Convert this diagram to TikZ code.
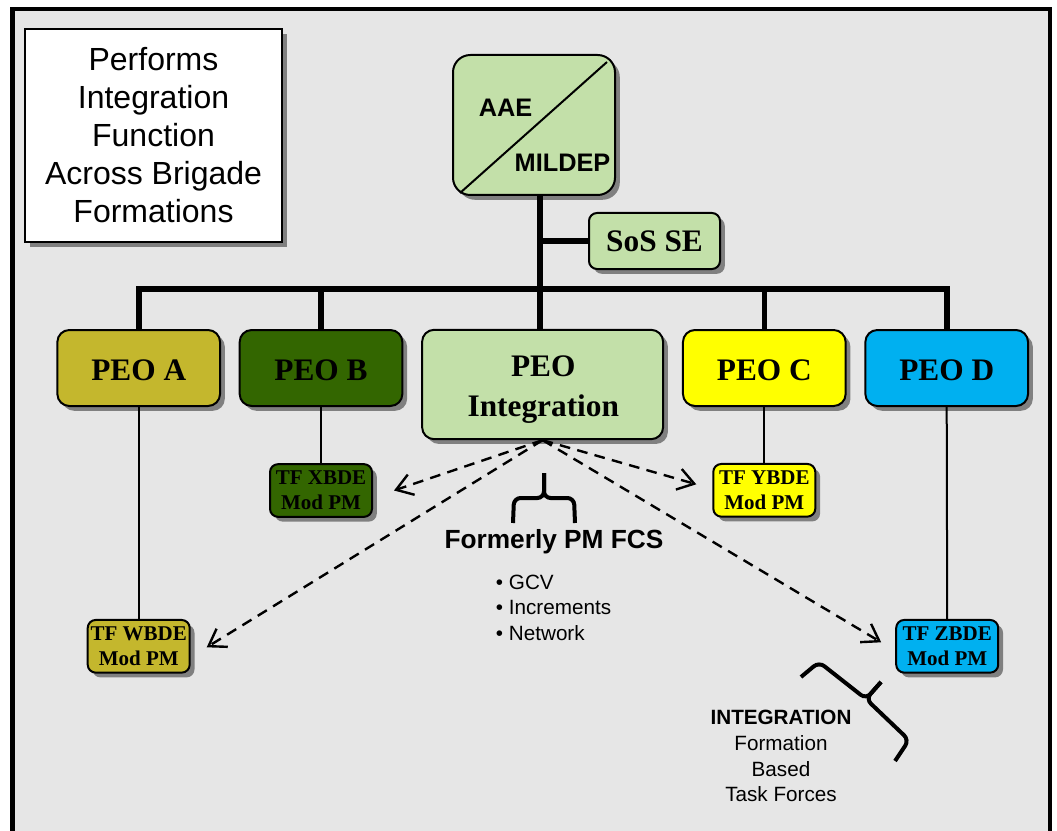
\documentclass[tikz,border=0pt]{standalone}
\usepackage{fontspec}
\setmainfont{Liberation Serif}
\newfontfamily\arial{Liberation Sans}
\usetikzlibrary{shadows,arrows.meta,calc}

\definecolor{panelgray}{HTML}{E6E6E6}
\definecolor{lgreen}{HTML}{C3E0A9}
\definecolor{olivebox}{HTML}{C4B72D}
\definecolor{dgreen}{HTML}{336600}
\definecolor{ybox}{HTML}{FFFF00}
\definecolor{cbox}{HTML}{00B0F0}

\tikzset{
  shadowed/.style={drop shadow={shadow xshift=3.6pt, shadow yshift=-3.6pt, fill=black!50, opacity=1}},
  peobox/.style={draw=black, line width=1.5pt, rounded corners=9pt, minimum width=122pt,
    minimum height=57pt, inner sep=0pt, align=center, shadowed,
    text height=18pt, text depth=0pt,
    font=\bfseries\fontsize{23.5}{30}\selectfont},
  tfbox/.style={draw=black, line width=1.5pt, rounded corners=6pt, minimum width=76.5pt,
    minimum height=39.5pt, inner sep=0pt, align=center, shadowed,
    font=\bfseries\fontsize{15.75}{18.75}\selectfont},
  trunk/.style={line width=4.2pt},
  twig/.style={line width=1.5pt},
  link/.style={line width=1.8pt, dash pattern=on 8pt off 5.5pt,
    -{Straight Barb[length=12pt,width=16pt]}},
  brace/.style={line width=3pt, rounded corners=5pt},
  sanslabel/.style={inner sep=0pt, font=\arial\fontsize{15.5}{18}\selectfont},
}

\begin{document}
\begin{tikzpicture}[x=0.75pt,y=-0.75pt]
  % page and panel
  \fill[white] (0,0) rectangle (1057,831);
  \useasboundingbox (0,0) rectangle (1057,831);
  \draw[line width=3.6pt, fill=panelgray] (12.5,9) rectangle (1050,834);

  % explanatory note
  \node[draw=black, line width=1.5pt, fill=white, shadowed, minimum width=192.75pt,
        minimum height=159.75pt, align=center, font=\arial\fontsize{24}{28.5}\selectfont]
        (note) at (153.5,135.5) {Performs\\Integration\\Function\\Across Brigade\\Formations};

  % top: AAE / MILDEP
  \node[draw=black, line width=1.5pt, fill=lgreen, rounded corners=13pt, minimum width=121.5pt,
        minimum height=105pt, shadowed] (aae) at (534,125) {};
  \draw[line width=1.5pt] ($(aae.south west)+(8,-3)$) -- ($(aae.north east)+(-9,8)$);
  \node[inner sep=0pt, font=\arial\bfseries\fontsize{19}{19}\selectfont] (aaet) at (505.5,107.5) {AAE};
  \node[inner sep=0pt, font=\arial\bfseries\fontsize{19}{19}\selectfont] (mildep) at (562.5,162.5) {MILDEP};

  % SoS SE
  \node[draw=black, line width=1.5pt, fill=lgreen, rounded corners=6pt, minimum width=98.25pt,
        minimum height=42pt, inner sep=0pt, shadowed, font=\bfseries\fontsize{23.5}{28}\selectfont]
        (sos) at (654.5,241) {SoS SE};

  % PEO row
  \node[peobox, fill=olivebox] (peoa) at (138.7,368) {PEO A};
  \node[peobox, fill=dgreen]   (peob) at (321,368) {PEO B};
  \node[peobox, fill=lgreen, minimum width=180.75pt, minimum height=82pt] (peoi) at (542.6,384.5) {};
  \node[inner sep=0pt, align=center, font=\bfseries\fontsize{23.5}{30}\selectfont] (peoit) at (543.3,389.6) {PEO\\Integration};
  \node[peobox, fill=ybox]     (peoc) at (764.3,368) {PEO C};
  \node[peobox, fill=cbox]     (peod) at (946.7,368) {PEO D};

  % task force boxes
  \node[tfbox, fill=olivebox] (wbde) at (138.7,646.3) {TF WBDE\\Mod PM};
  \node[tfbox, fill=dgreen]   (xbde) at (321,490.5) {TF XBDE\\Mod PM};
  \node[tfbox, fill=ybox]     (ybde) at (764.3,490.3) {TF YBDE\\Mod PM};
  \node[tfbox, fill=cbox]     (zbde) at (947.2,646.3) {TF ZBDE\\Mod PM};

  % main hierarchy
  \coordinate (tk) at ($(aae.south)+(6,0)$);
  \coordinate (hub) at (540,289);
  \draw[trunk] (tk) -- (tk |- peoi.north);
  \draw[trunk] (sos.west) -- (sos.west -| tk);
  \draw[trunk, line join=miter] (peoa.north) -- (peoa.north |- hub) -- (peod.north |- hub) -- (peod.north);
  \draw[trunk] (peob.north) -- (peob.north |- hub);
  \draw[trunk] (peoc.north) -- (peoc.north |- hub);

  % PEO to task force
  \draw[twig] (peoa.south) -- (wbde.north);
  \draw[twig] (peob.south) -- (xbde.north);
  \draw[twig] (peoc.south) -- (ybde.north);
  \draw[twig] (peod.south) -- (zbde.north);

  % integration links
  \draw[link] (peoi.south) -- ($(xbde.east)+(21,0)$);
  \draw[link] (peoi.south) -- ($(wbde.east)+(16,1)$);
  \draw[link] (peoi.south) -- ($(ybde.west)+(-16,-6)$);
  \draw[link] (peoi.south) -- ($(zbde.west)+(-14,-4)$);

  % brace and notes under PEO Integration
  \draw[brace] (513,523) -- (514,498) -- (544,498) -- (544,473);
  \draw[brace] (575,523) -- (574,498) -- (544,498) -- (544,473);
  \node[inner sep=0pt, anchor=base, font=\arial\bfseries\fontsize{19.7}{23}\selectfont] (fpm) at (554,548) {Formerly PM FCS};
  \node[sanslabel, anchor=base west] (gcv) at (495.7,589.3) {\textbullet\ GCV};
  \node[sanslabel, anchor=base west] (incr) at (495.7,614.3) {\textbullet\ Increments};
  \node[sanslabel, anchor=base west] (netw) at (495.7,640) {\textbullet\ Network};

  % brace and notes near TF ZBDE
  \draw[brace] (801,677) -- (819,662) -- (866,699) -- (881,682);
  \draw[brace] (895,761) -- (909,740) -- (866,699) -- (881,682);
  \node[sanslabel, anchor=base, font=\arial\bfseries\fontsize{15.5}{18}\selectfont] (integ) at (781,724.3) {INTEGRATION};
  \node[sanslabel, anchor=base] (form) at (781,750.7) {Formation};
  \node[sanslabel, anchor=base] (based) at (781,776) {Based};
  \node[sanslabel, anchor=base] (tforce) at (781,801.7) {Task Forces};
\end{tikzpicture}
\end{document}
